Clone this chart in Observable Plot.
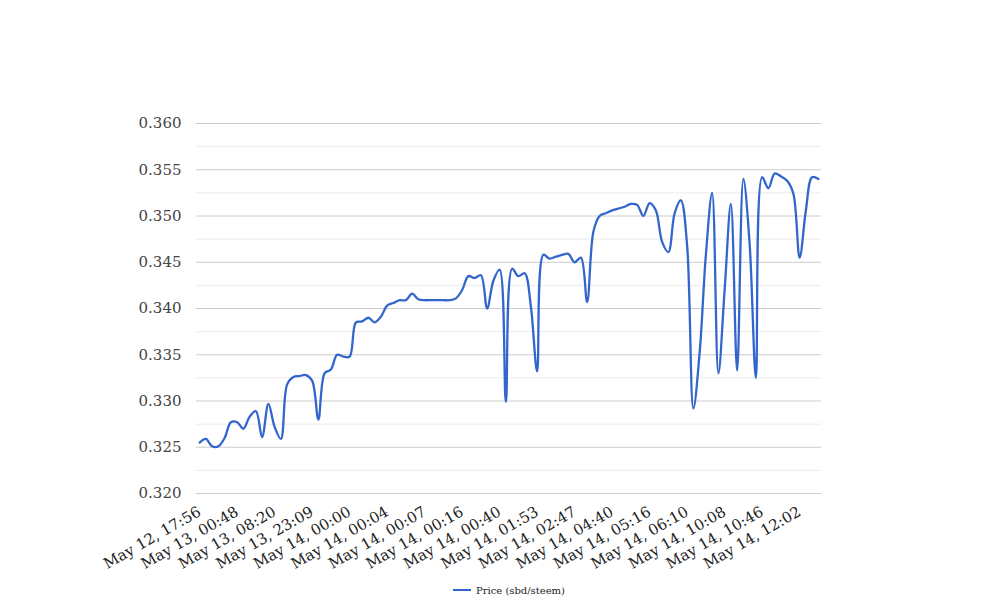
<!DOCTYPE html>
<html>
<head>
<meta charset="utf-8">
<script src="https://cdn.jsdelivr.net/npm/d3@7"></script>
<script src="https://cdn.jsdelivr.net/npm/@observablehq/plot@0.6"></script>
<style>
  html, body { margin: 0; padding: 0; background: #ffffff; }
  #wrap { position: relative; width: 1008px; height: 616px; overflow: hidden; background: #fff; }
  #legend { position: absolute; left: 453px; top: 582px; height: 16px; display: flex; align-items: center;
            font-family: "DejaVu Serif", serif; font-size: 10px; color: #222; white-space: nowrap; }
  #legend .sw { width: 18px; height: 2px; background: #3366cc; margin-right: 5px; }
</style>
</head>
<body>
<div id="wrap">
  <div id="chart"></div>
  <div id="legend"><span class="sw"></span><span id="legend-text"></span></div>
</div>
<script>
// ---- data ----
const seriesName = "Price (sbd/steem)";
const tickLabels = [
  "May 12, 17:56", "May 13, 00:48", "May 13, 08:20", "May 13, 23:09",
  "May 14, 00:00", "May 14, 00:04", "May 14, 00:07", "May 14, 00:16",
  "May 14, 00:40", "May 14, 01:53", "May 14, 02:47", "May 14, 04:40",
  "May 14, 05:16", "May 14, 06:10", "May 14, 10:08", "May 14, 10:46",
  "May 14, 12:02"
];
const labelEvery = 6;
const prices = [
  0.3255, 0.3259, 0.3251, 0.3251, 0.3260, 0.3277, 0.3277, 0.3270, 0.3283, 0.3289,
  0.3261, 0.3297, 0.3272, 0.3259, 0.3318, 0.3326, 0.3327, 0.3328, 0.3322, 0.3280,
  0.3330, 0.3334, 0.3350, 0.3348, 0.3348, 0.3385, 0.3386, 0.3390, 0.3385, 0.3391,
  0.3403, 0.3406, 0.3409, 0.3409, 0.3416, 0.3410, 0.3409, 0.3409, 0.3409, 0.3409,
  0.3409, 0.3411, 0.3420, 0.3435, 0.3433, 0.3436, 0.3400, 0.3430, 0.3442, 0.3299,
  0.3443, 0.3435, 0.3438, 0.3402, 0.3332, 0.3458, 0.3454, 0.3456, 0.3458, 0.3459,
  0.3450, 0.3455, 0.3407, 0.3483, 0.3500, 0.3503, 0.3506, 0.3508, 0.3510, 0.3513,
  0.3512, 0.3500, 0.3514, 0.3506, 0.3472, 0.3461, 0.3503, 0.3517, 0.3468, 0.3292,
  0.3352, 0.3458, 0.3525, 0.3330, 0.3420, 0.3513, 0.3333, 0.3540, 0.3470, 0.3325,
  0.3542, 0.3530, 0.3546, 0.3543, 0.3538, 0.3524, 0.3455, 0.3506, 0.3542, 0.3540
];
const yTicks = [0.320, 0.325, 0.330, 0.335, 0.340, 0.345, 0.350, 0.355, 0.360];
const yMinorTicks = [0.3225, 0.3275, 0.3325, 0.3375, 0.3425, 0.3475, 0.3525, 0.3575];

// ---- build ----
const rows = prices.map((price, i) => ({i, price}));
const xTickIdx = tickLabels.map((_, j) => j * labelEvery);

const chart = Plot.plot({
  width: 1008,
  height: 575,
  marginTop: 123,
  marginBottom: 82,
  marginLeft: 196,
  marginRight: 187,
  style: {fontFamily: "'DejaVu Serif', serif", fontSize: "15px", background: "#ffffff", overflow: "visible"},
  x: {domain: [-0.5, prices.length - 0.5], label: null},
  y: {domain: [0.320, 0.360], label: null},
  marks: [
    Plot.gridY(yMinorTicks, {stroke: "#ebebeb", strokeOpacity: 1, strokeWidth: 1}),
    Plot.gridY(yTicks, {stroke: "#cccccc", strokeOpacity: 1, strokeWidth: 1}),
    Plot.axisY(yTicks, {tickFormat: d3.format(".3f"), tickSize: 0, tickPadding: 15, fontSize: 15, color: "#444444", label: null}),
    Plot.axisX(xTickIdx, {tickFormat: d => tickLabels[d / labelEvery], tickRotate: -30, tickSize: 0, tickPadding: 17, fontSize: 15, color: "#222222", label: null}),
    Plot.line(rows, {x: "i", y: "price", curve: "catmull-rom", stroke: "#3366cc", strokeWidth: 2.3, strokeLinejoin: "round", strokeLinecap: "round"})
  ]
});
document.getElementById("chart").appendChild(chart);
document.getElementById("legend-text").textContent = seriesName;
</script>
</body>
</html>
